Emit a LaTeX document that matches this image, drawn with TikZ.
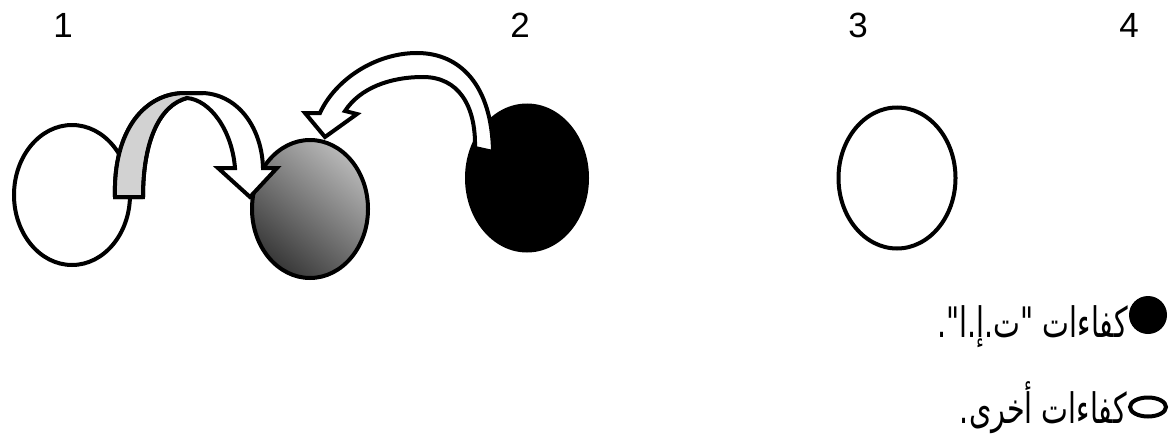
\documentclass[tikz,border=0pt]{standalone}
\usepackage{fontspec}
\setmainfont{Liberation Sans}
\newfontfamily\arabicfont[Script=Arabic]{DejaVu Sans}
\TeXXeTstate=1
\usetikzlibrary{shapes.geometric}
\begin{document}
\begin{tikzpicture}[x=1pt,y=-1pt]
\tikzset{
  thick line/.style={line width=4pt},
  oval/.style={ellipse, draw, thick line, inner sep=0pt},
  numlabel/.style={font=\fontsize{35}{38}\selectfont, inner sep=0pt},
  legendtext/.style={font=\arabicfont\fontsize{42}{46}\selectfont, inner sep=0pt, anchor=base east},
  blockarrow/.style={thick line, fill=white, line join=miter}
}
\useasboundingbox (0,0) rectangle (1174,436);
% numbers
\node[numlabel] (n1) at (63,25.5) {1};
\node[numlabel] (n2) at (520,25.5) {2};
\node[numlabel] (n3) at (858,25.5) {3};
\node[numlabel] (n4) at (1129,25.5) {4};
% ovals
\node[oval, fill=white, minimum width=116, minimum height=140] (e1) at (72,195) {};
\node[oval, top color=black!28, bottom color=black!78, shading angle=-40, minimum width=116, minimum height=138] (e2) at (310,209) {};
\node[oval, fill=black, minimum width=120, minimum height=145] (e3) at (527,178) {};
\node[oval, fill=white, minimum width=117, minimum height=141] (e4) at (897,178) {};
% arrow 1 (from e1 to e2)
\draw[blockarrow] (143,197) -- (115,197) .. controls (113,130) and (145,93) .. (185,93) -- (203,93)
  .. controls (240,95) and (262,130) .. (263,168) -- (277,168) -- (250,197) -- (218,168) -- (235,168)
  .. controls (232,130) and (210,100) .. (187,98) .. controls (160,105) and (143,140) .. (143,197) -- cycle;
\fill[gray!35] (117,195) .. controls (115,130) and (146,95) .. (185,95) -- (186,99)
  .. controls (158,106) and (141,140) .. (141,195) -- cycle;
\draw[thick line, line join=miter] (143,197) -- (115,197) .. controls (113,130) and (145,93) .. (185,93) -- (203,93);
\draw[thick line] (187,98) .. controls (160,105) and (143,140) .. (143,197);
% arrow 2 (from e3 to e2)
\draw[blockarrow] (320,113) .. controls (335,80) and (375,53) .. (417,53)
  .. controls (460,53) and (492,85) .. (493,152) -- (475,148)
  .. controls (476,105) and (458,77) .. (423,77) .. controls (390,77) and (360,88) .. (345,111)
  -- (357,114) -- (325,137) -- (305,113) -- cycle;
% legend
\node[circle, fill=black, minimum size=38, inner sep=0pt] (b1) at (1148,315) {};
\node[legendtext] (t1) at (1128,337) {\scalebox{0.68}[1]{\beginR كفاءات "ت.إ.ا".\endR}};
\node[oval, minimum width=36, minimum height=19] (b2) at (1148,407) {};
\node[legendtext] (t2) at (1127,423) {\scalebox{0.68}[1]{\beginR كفاءات أخرى.\endR}};
\end{tikzpicture}
\end{document}
